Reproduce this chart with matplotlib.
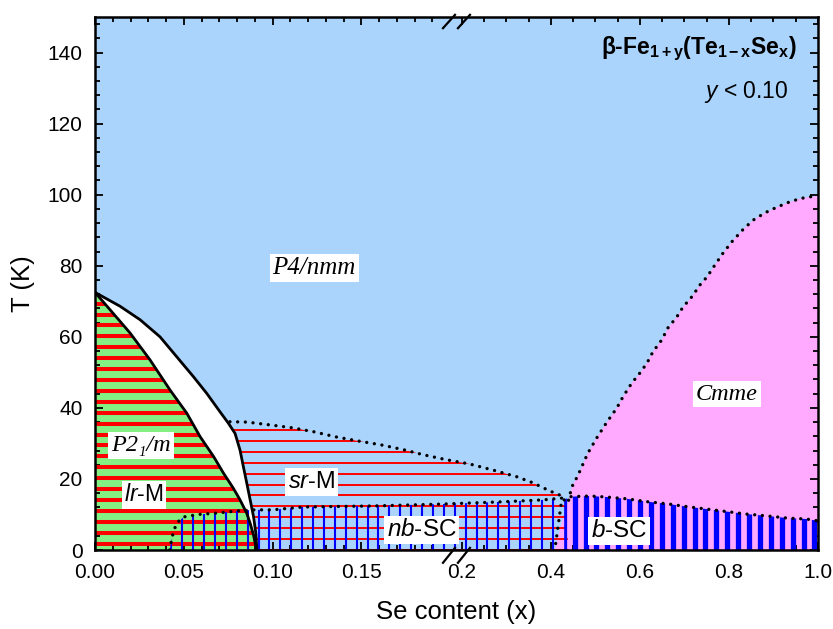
import numpy as np
import matplotlib
matplotlib.use("Agg")
import matplotlib.pyplot as plt
from matplotlib.patches import Polygon
from matplotlib.ticker import MultipleLocator

plt.rcParams['font.family'] = ['Liberation Sans', 'DejaVu Sans']
plt.rcParams['mathtext.fontset'] = 'custom'
plt.rcParams['mathtext.rm'] = 'Liberation Sans'
plt.rcParams['mathtext.it'] = 'Liberation Sans:italic'
plt.rcParams['mathtext.bf'] = 'Liberation Sans:bold'

# phase boundaries (x = Se content, T in K)
lens_in_x = [0.0, 0.0085, 0.0197, 0.031, 0.0423, 0.0517, 0.0592, 0.0668, 0.0724,
             0.0779, 0.0817, 0.0855, 0.0874, 0.0893, 0.0906, 0.0912]
lens_in_T = [72.5, 67.6, 61.1, 53.5, 45.0, 38.5, 31.9, 26.3, 21.6,
             17.4, 14.1, 10.3, 7.5, 4.2, 0.9, 0.0]
lens_out_x = [0.0, 0.0141, 0.0254, 0.0366, 0.046, 0.0554, 0.0629, 0.0704, 0.0751,
              0.0789, 0.0817, 0.0836, 0.0855, 0.0874, 0.0893, 0.0906, 0.0912]
lens_out_T = [72.5, 68.6, 64.8, 60.0, 54.4, 48.8, 44.1, 38.9, 35.7,
              32.8, 28.1, 23.4, 18.8, 14.1, 9.4, 4.7, 0.0]

srm_x = [0.076, 0.0857, 0.0986, 0.111, 0.123, 0.136, 0.148, 0.161, 0.174, 0.185,
         0.198, 0.218, 0.27, 0.324, 0.36, 0.398, 0.431]
srm_T = [36.1, 36.0, 35.2, 34.4, 33.3, 31.8, 30.7, 29.6, 28.2, 26.8,
         25.4, 24.2, 22.5, 20.6, 18.9, 16.6, 14.9]

nbsc_x = [0.042, 0.044, 0.046, 0.050, 0.058, 0.069, 0.080, 0.090, 0.100, 0.117,
          0.157, 0.194, 0.279, 0.382, 0.425, 0.409]
nbsc_T = [0.0, 4.8, 7.6, 9.3, 10.0, 10.4, 11.0, 11.3, 11.3, 12.1,
          12.4, 12.9, 13.5, 14.1, 14.6, 0.0]

bsc_x = [0.43, 0.43, 0.443, 0.488, 0.526, 0.571, 0.616, 0.661, 0.706, 0.751,
         0.796, 0.84, 0.885, 0.93, 0.975, 1.0, 1.0]
bsc_T = [0.0, 14.1, 15.0, 15.2, 14.9, 14.4, 13.6, 13.0, 12.2, 11.5,
         10.8, 10.1, 9.6, 9.0, 8.7, 8.2, 0.0]

cmme_x = [0.409, 0.425, 0.44, 0.447, 0.461, 0.483, 0.503, 0.526, 0.548, 0.562,
          0.582, 0.6, 0.616, 0.629, 0.649, 0.663, 0.683, 0.697, 0.717, 0.735,
          0.751, 0.769, 0.787, 0.807, 0.831, 0.854, 0.881, 0.908, 0.933, 0.96,
          0.982, 1.0]
cmme_T = [0.0, 8.0, 14.0, 17.7, 21.0, 27.2, 31.5, 36.0, 39.9, 43.1,
          47.0, 49.8, 52.6, 55.7, 59.1, 62.5, 65.6, 68.4, 71.3, 74.6,
          76.9, 80.3, 83.6, 86.8, 90.1, 92.8, 94.9, 96.5, 97.8, 98.9,
          99.4, 99.6]

xticks = [0.0, 0.05, 0.10, 0.15, 0.2, 0.4, 0.6, 0.8, 1.0]
xtick_labels = ['0.00', '0.05', '0.10', '0.15', '0.2', '0.4', '0.6', '0.8', '1.0']

BLUE_BG = '#aad4fc'
GREEN = '#84f084'
PINK = '#ffaaff'


# broken x axis: 0-0.2 stretched, 0.2-1.0 compressed
def fwd(x):
    x = np.asarray(x, dtype=float)
    return np.where(x < 0.2, x * 1774.0, 362.0 + (x - 0.19) * 445.0)


def inv(u):
    u = np.asarray(u, dtype=float)
    return np.where(u < 360.0, u / 1774.0, 0.19 + (u - 362.0) / 445.0)


fig, ax = plt.subplots(figsize=(8.33, 6.29), dpi=100)
fig.subplots_adjust(left=95 / 833, right=818 / 833, bottom=79 / 629, top=612 / 629)
ax.set_xscale('function', functions=(fwd, inv))
ax.set_xlim(0, 1.0)
ax.set_ylim(0, 150)
ax.set_facecolor(BLUE_BG)

# lr-M (green, thick red stripes)
green_xy = np.column_stack([[0.0] + lens_in_x + [0.0], [0.0] + lens_in_T + [0.0]])
ax.add_patch(Polygon(green_xy, closed=True, fc=GREEN, ec='none', zorder=1))
green_clip = Polygon(green_xy, closed=True, transform=ax.transData)
stripes = ax.hlines(np.arange(1.8, 75, 3.07), 0, 1, transform=ax.get_yaxis_transform(),
                    colors='#ff0000', lw=2.9, zorder=2)
stripes.set_clip_path(green_clip)

# Cmme (pink)
cmme_xy = np.column_stack([cmme_x + [1.0], cmme_T + [0.0]])
ax.add_patch(Polygon(cmme_xy, closed=True, fc=PINK, ec='none', zorder=1))

# sr-M (thin red lines)
sr_xy = np.column_stack([lens_out_x[::-1][:5] + srm_x + [0.44],
                         lens_out_T[::-1][:5] + srm_T + [0.0]])
sr_clip = Polygon(sr_xy, closed=True, transform=ax.transData)
srl = ax.hlines(np.arange(0, 40, 3.07), 0, 1, transform=ax.get_yaxis_transform(),
                colors='#ff0000', lw=1.4, zorder=2)
srl.set_clip_path(sr_clip)

# white two-phase lens
lens_xy = np.column_stack([lens_in_x + lens_out_x[::-1], lens_in_T + lens_out_T[::-1]])
ax.add_patch(Polygon(lens_xy, closed=True, fc='white', ec='none', zorder=3))

# nb-SC and b-SC (vertical blue lines, evenly spaced on screen)
xfrac = np.arange(0, 1.0, 10.9 / 723)
nb_clip = Polygon(np.column_stack([nbsc_x, nbsc_T]), closed=True, transform=ax.transData)
nbl = ax.vlines(xfrac, 0, 1, transform=ax.transAxes, colors='#0000ff', lw=1.5, zorder=4)
nbl.set_clip_path(nb_clip)
b_clip = Polygon(np.column_stack([bsc_x, bsc_T]), closed=True, transform=ax.transData)
bl = ax.vlines(xfrac, 0, 1, transform=ax.transAxes, colors='#0000ff', lw=3.8, zorder=4)
bl.set_clip_path(b_clip)

# boundaries
ax.plot(lens_in_x, lens_in_T, color='k', lw=2, zorder=5)
ax.plot(lens_out_x, lens_out_T, color='k', lw=2, zorder=5)
dots = dict(color='k', lw=2.4, ls=(0, (0.01, 2.3)), dash_capstyle='round', zorder=5)
ax.plot(srm_x, srm_T, **dots)
ax.plot(nbsc_x, nbsc_T, **dots)
ax.plot(bsc_x[1:-1], bsc_T[1:-1], **dots)
ax.plot(cmme_x[2:], cmme_T[2:], **dots)

# region labels
box = dict(boxstyle='square,pad=0.12', fc='white', ec='none')
serif = ['Liberation Serif', 'DejaVu Serif']
ax.text(0.1235, 79.4, 'P4/nmm', family=serif, style='italic', fontsize=18,
        ha='center', va='center', bbox=box, zorder=6)
ax.text(0.7955, 43.9, 'Cmme', family=serif, style='italic', fontsize=17.5,
        ha='center', va='center', bbox=box, zorder=6)
ax.text(0.026, 29.3, 'P2\u2081/m', family=serif, style='italic', fontsize=17.5,
        ha='center', va='center', bbox=box, zorder=6)
ax.text(0.0276, 15.5, '$lr$-M', fontsize=16.5, ha='center', va='center', bbox=box, zorder=6)
ax.text(0.1218, 19.1, '$sr$-M', fontsize=17, ha='center', va='center', bbox=box, zorder=6)
ax.text(0.184, 5.6, '$nb$-SC', fontsize=17.5, ha='center', va='center', bbox=box, zorder=6)
ax.text(0.553, 5.3, '$b$-SC', fontsize=17.5, ha='center', va='center', bbox=box, zorder=6)

ax.text(0.971, 0.94, r'β-Fe$_{\mathbf{1+y}}$(Te$_{\mathbf{1-x}}$Se$_{\mathbf{x}}$)',
        transform=ax.transAxes, fontsize=16.5, fontweight='bold', ha='right', va='center',
        zorder=6)
ax.text(0.9585, 0.859, '$y$ < 0.10', transform=ax.transAxes, fontsize=16.5,
        ha='right', va='center', zorder=6)

# axis break marks
for y0, y1 in [(0.979, 1.004), (-0.024, 0.004)]:
    for x0 in [0.4813, 0.502]:
        ax.plot([x0, x0 + 0.0166], [y0, y1], transform=ax.transAxes, color='k',
                lw=1.6, clip_on=False, zorder=7)

# ticks
minor_left = [v for v in np.round(np.arange(0.01, 0.2, 0.01), 2) if v not in xticks]
minor_right = [v for v in np.round(np.arange(0.25, 1.0, 0.05), 2) if v not in xticks]
ax.set_xticks(xticks, xtick_labels)
ax.set_xticks(minor_left + minor_right, minor=True)
ax.yaxis.set_major_locator(MultipleLocator(20))
ax.yaxis.set_minor_locator(MultipleLocator(4))
ax.tick_params(which='both', direction='in', top=True, right=True, width=1.3)
ax.tick_params(which='major', length=6, labelsize=15)
ax.tick_params(which='minor', length=3.5)
ax.tick_params(axis='x', which='major', pad=9)
ax.tick_params(axis='y', which='major', pad=9)
for s in ax.spines.values():
    s.set_linewidth(1.8)
    s.set_zorder(8)

ax.set_xlabel('Se content (x)', fontsize=18.5, labelpad=13)
ax.set_ylabel('T (K)', fontsize=18.5, labelpad=9)

fig.savefig('out.png', dpi=100)
